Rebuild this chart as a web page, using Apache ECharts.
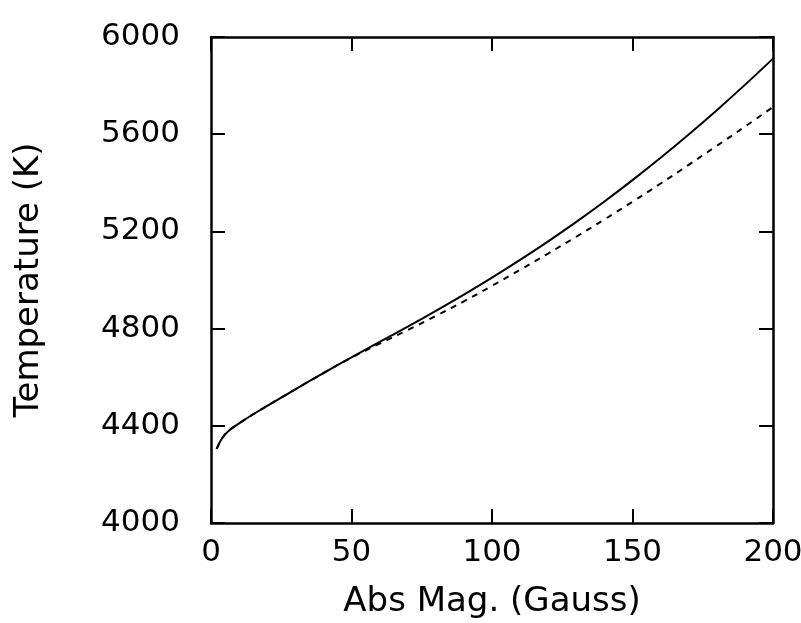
<!DOCTYPE html>
<html>
<head>
<meta charset="utf-8">
<script src="https://cdn.jsdelivr.net/npm/echarts@6/dist/echarts.min.js"></script>
<style>
  html, body { margin: 0; padding: 0; background: #fff; }
  #chart { width: 801px; height: 623px; }
</style>
</head>
<body>
<div id="chart"></div>
<script>
  // field strength (Gauss) and the two temperature curves (K)
  const fieldGauss = [2, 5, 10, 20, 30, 40, 50, 60, 70, 80, 90, 100, 110, 120, 130, 140, 150, 160, 170, 180, 190, 200];
  const tempSolid = [4305, 4365, 4410, 4482, 4550, 4617, 4682, 4745, 4808, 4873, 4940, 5010, 5083, 5159, 5239, 5323, 5411, 5503, 5599, 5699, 5803, 5911];
  const tempDashed = [4305, 4365, 4410, 4482, 4550, 4617, 4681, 4738, 4794, 4852, 4912, 4976, 5042, 5109, 5178, 5249, 5322, 5397, 5474, 5552, 5631, 5712];

  const font = "DejaVu Sans, sans-serif";
  const black = "#000";

  const chart = echarts.init(document.getElementById("chart"), null, { renderer: "canvas" });

  // each axis gets its own fresh line/tick objects; ticks point into the plot
  function frame(extra) {
    return Object.assign({
      axisLine: { show: true, onZero: false, lineStyle: { color: black, width: 2.5 } },
      axisTick: { show: true, inside: true, length: 14, lineStyle: { color: black, width: 2 } },
      splitLine: { show: false }
    }, extra);
  }

  chart.setOption({
    animation: false,
    grid: { left: 211, right: 28, top: 37, bottom: 100, outerBoundsMode: "none", containLabel: false },
    xAxis: [
      frame({
        type: "value", min: 0, max: 200, interval: 50, position: "bottom",
        name: "Abs Mag. (Gauss)", nameLocation: "middle", nameGap: 62,
        nameTextStyle: { fontFamily: font, fontSize: 34, color: black },
        axisLabel: { fontFamily: font, fontSize: 31, color: black, margin: 14 }
      }),
      frame({
        type: "value", min: 0, max: 200, interval: 50, position: "top",
        axisLabel: { show: false }
      })
    ],
    yAxis: [
      frame({
        type: "value", min: 4000, max: 6000, interval: 400, position: "left",
        name: "Temperature (K)", nameLocation: "middle", nameGap: 165, nameRotate: 90,
        nameTextStyle: { fontFamily: font, fontSize: 34, color: black },
        axisLabel: { fontFamily: font, fontSize: 31, color: black, margin: 31, formatter: (v) => String(v) }
      }),
      frame({
        type: "value", min: 4000, max: 6000, interval: 400, position: "right",
        axisLabel: { show: false }
      })
    ],
    series: [
      {
        type: "line", xAxisIndex: 0, yAxisIndex: 0, smooth: 0.4, showSymbol: false,
        lineStyle: { color: black, width: 2 },
        data: fieldGauss.map((x, i) => [x, tempSolid[i]])
      },
      {
        type: "line", xAxisIndex: 0, yAxisIndex: 0, smooth: 0.4, showSymbol: false,
        lineStyle: { color: black, width: 2, type: [6, 6] },
        data: fieldGauss.map((x, i) => [x, tempDashed[i]])
      }
    ]
  });
</script>
</body>
</html>
